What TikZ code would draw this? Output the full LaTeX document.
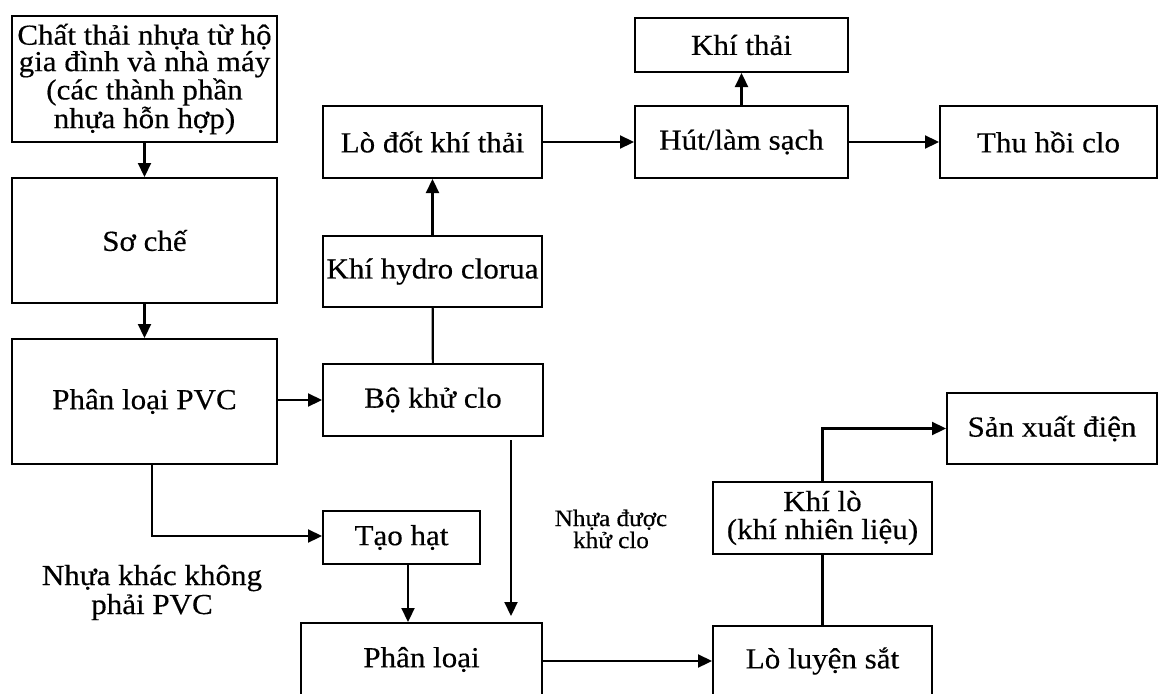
\documentclass[tikz,border=0pt]{standalone}
\usepackage{fontspec}
\setmainfont{Liberation Serif}[FakeStretch=1.07, FakeBold=0.4]
\usetikzlibrary{arrows.meta}

\tikzset{
  box/.style={draw, line width=2pt, inner sep=0pt, align=center,
    font=\fontsize{29}{28}\selectfont},
  link/.style={line width=2.2pt},
  flow/.style={link, -{Triangle[length=14pt,width=13pt]}},
  note/.style={inner sep=0pt, align=center},
}

\begin{document}
\begin{tikzpicture}[x=1pt, y=-1pt]
\useasboundingbox (0,0) rectangle (1158,693);

% left column
\node[box, minimum width=265pt, minimum height=126pt,
      font=\fontsize{29}{26.5}\selectfont] (src) at (144.5,79)
  {Chất thải nhựa từ hộ\\gia đình và nhà máy\\(các thành phần\\nhựa hỗn hợp)};
\node[box, minimum width=265pt, minimum height=125pt] (prep) at (144.5,240.5) {Sơ chế};
\node[box, minimum width=265pt, minimum height=125pt] (pvc) at (144.5,401.5) {Phân loại PVC};

% dechlorination column
\node[box, minimum width=219pt, minimum height=72pt] (burner) at (432.5,142) {Lò đốt khí thải};
\node[box, minimum width=219pt, minimum height=71pt] (hcl) at (432.5,271.5) {Khí hydro clorua};
\node[box, minimum width=220pt, minimum height=72pt] (dechl) at (433,400) {Bộ khử clo};
\node[box, minimum width=157pt, minimum height=53pt] (pel) at (401.5,537.5) {Tạo hạt};
\node[box, minimum width=241pt, minimum height=73pt] (sort) at (421.5,659.5) {Phân loại};

% gas treatment
\node[box, minimum width=213pt, minimum height=54pt] (exh) at (741.5,45) {Khí thải};
\node[box, minimum width=213pt, minimum height=72pt] (scrub) at (741.5,142) {Hút/làm sạch};
\node[box, minimum width=217pt, minimum height=72pt] (rec) at (1048.5,142) {Thu hồi clo};

% blast furnace branch
\node[box, minimum width=219pt, minimum height=72pt] (gas) at (822.5,518)
  {Khí lò\\(khí nhiên liệu)};
\node[box, minimum width=219pt, minimum height=70pt] (blast) at (822.5,661) {Lò luyện sắt};
\node[box, minimum width=210pt, minimum height=71pt] (power) at (1052,428.5) {Sản xuất điện};

% free labels
\node[note, font=\fontsize{29}{29}\selectfont] (other) at (152,592.5)
  {Nhựa khác không\\phải PVC};
\node[note, font=\fontsize{23.5}{22}\selectfont] (clean) at (611,529)
  {Nhựa được\\khử clo};

% connectors
\coordinate (px) at (152,0);
\coordinate (gx) at (408,0);
\coordinate (dx) at (511,0);

\draw[flow] (src) -- (prep);
\draw[flow] (prep) -- (pvc);
\draw[flow] (pvc.east |- dechl.west) -- (dechl.west);
\draw[flow] (pvc.south -| px) |- ([yshift=1.5pt]pel.west);
\draw[flow] (pel.south -| gx) -- (sort.north -| gx);
\draw[flow] ([yshift=-3pt]dechl.south -| dx) -- ([yshift=6pt]sort.north -| dx);
\draw[link] (hcl) -- (dechl);
\draw[flow] (hcl) -- (burner);
\draw[flow] (burner) -- (scrub);
\draw[flow] (scrub) -- (exh);
\draw[flow] (scrub) -- (rec);
\draw[flow] ([yshift=-1.5pt]sort.east) -- ([yshift=-1.5pt]sort.east -| blast.west);
\draw[link] (blast) -- (gas);
\draw[flow] (gas.north) |- (power.west);

\end{tikzpicture}
\end{document}
